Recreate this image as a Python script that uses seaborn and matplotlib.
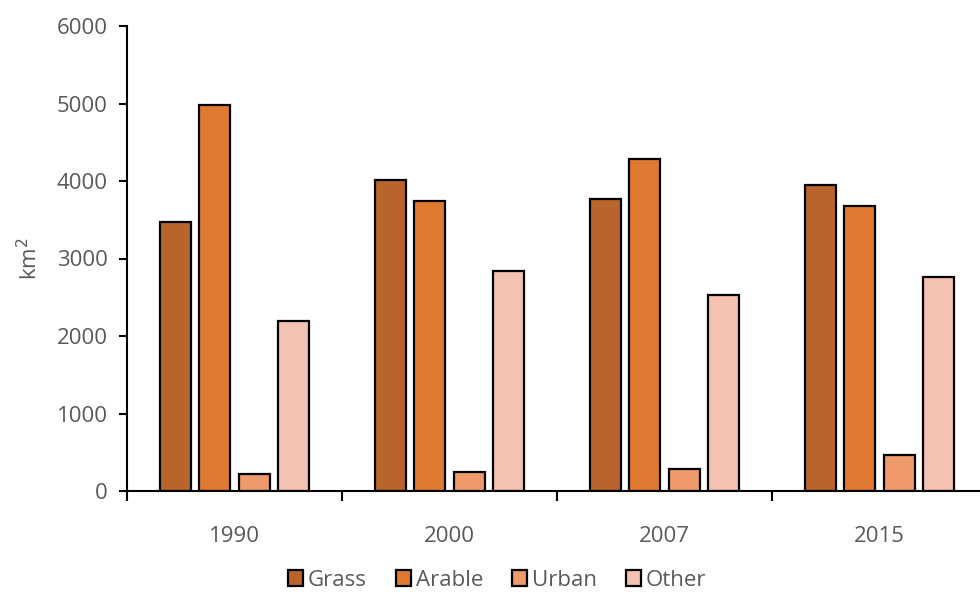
import matplotlib
matplotlib.use("Agg")
import matplotlib.pyplot as plt
import pandas as pd
import seaborn as sns

# land cover areas (km2) per survey year
years = ["1990", "2000", "2007", "2015"]
classes = ["Grass", "Arable", "Urban", "Other"]
grass = [3470, 4010, 3770, 3950]
arable = [4980, 3740, 4280, 3680]
urban = [220, 250, 285, 465]
other = [2190, 2840, 2530, 2760]
colors = ["#B8642A", "#E07A30", "#EE9A6A", "#F4C2B0"]

df = pd.DataFrame({"Year": years, "Grass": grass, "Arable": arable,
                   "Urban": urban, "Other": other})
long = df.melt(id_vars="Year", var_name="Class", value_name="Area")

sns.set_style("white")
plt.rcParams["font.family"] = ["Open Sans", "DejaVu Sans"]

fig = plt.figure(figsize=(9.8, 5.92), dpi=100)
ax = fig.add_axes([127 / 980, 101 / 592, 860 / 980, 465 / 592])

sns.barplot(data=long, x="Year", y="Area", hue="Class", hue_order=classes,
            palette=colors, saturation=1, width=0.73, gap=0.21,
            edgecolor="black", linewidth=1.6, ax=ax, legend=True)

ax.set_xlim(-0.5, 3.5)
ax.set_ylim(0, 6000)
ax.set_yticks(range(0, 6001, 1000))
ax.set_xlabel("")
ax.set_ylabel("km$^2$", fontsize=16, color="#595959", labelpad=10)

for side in ["top", "right"]:
    ax.spines[side].set_visible(False)
for side in ["left", "bottom"]:
    ax.spines[side].set_color("black")
    ax.spines[side].set_linewidth(1.5)

# category separators as minor ticks on the x axis
ax.set_xticks([-0.5, 0.5, 1.5, 2.5, 3.5], minor=True)
ax.tick_params(axis="x", which="major", length=0, pad=25,
               labelsize=16, labelcolor="#595959")
ax.tick_params(axis="x", which="minor", direction="out", length=7,
               width=1.5, color="black", bottom=True)
ax.tick_params(axis="y", direction="out", length=6, width=1.5,
               color="black", left=True, labelsize=16, labelcolor="#595959",
               pad=8)

handles, labels = ax.get_legend_handles_labels()
ax.get_legend().remove()
fig.legend(handles, labels, loc="center", bbox_to_anchor=(497 / 980, 12 / 592),
           ncol=4, frameon=False, fontsize=16, handlelength=0.7,
           handleheight=0.7, handletextpad=0.2, columnspacing=1.3,
           labelcolor="#595959")

fig.savefig("out.png", dpi=100)
